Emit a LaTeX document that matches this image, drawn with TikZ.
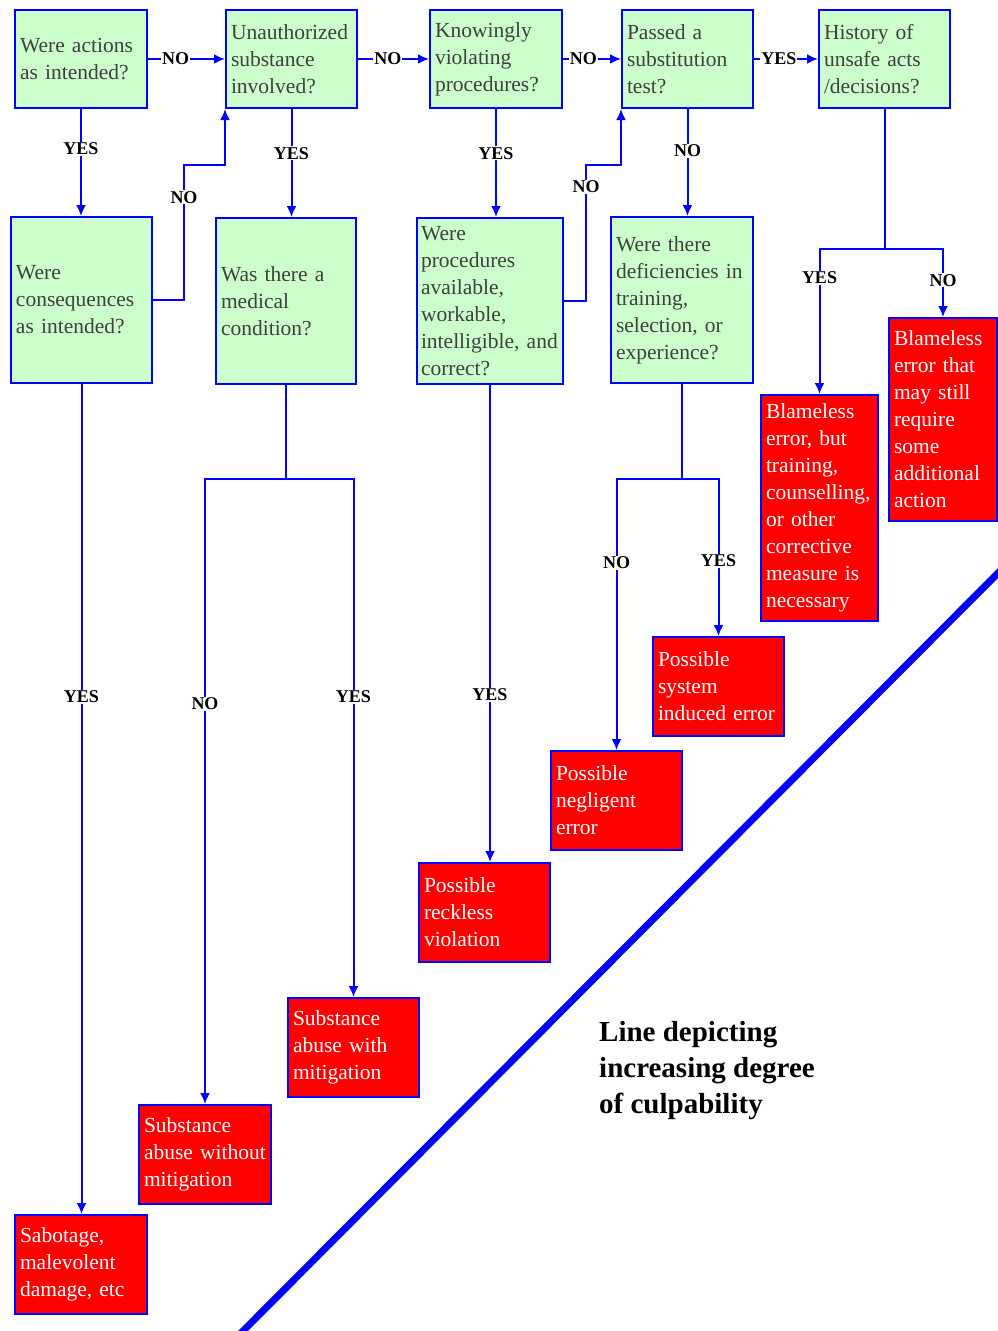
\documentclass[tikz,border=0pt]{standalone}
\usepackage{fontspec}
\setmainfont{Liberation Serif}
\usetikzlibrary{arrows.meta}
\definecolor{box-green}{HTML}{CCFFCC}
\definecolor{box-red}{HTML}{FF0000}
\definecolor{box-blue}{HTML}{0000FF}
\definecolor{question-text}{HTML}{404040}
\tikzset{
    question-box/.style = {draw=box-blue, fill=box-green, line width=2pt, rectangle, inner xsep=5pt, inner ysep=0pt, align=left, text=question-text, font=\fontsize{21.5}{27}\selectfont},
    outcome-box/.style = {question-box, fill=box-red, text=white},
    flow-line/.style = {draw=box-blue, line width=2pt},
    flow-arrow/.style = {flow-line, -{Latex[length=11pt,width=10pt]}},
    answer/.style = {fill=white, inner sep=1pt, text=black, font=\bfseries\fontsize{18}{20}\selectfont},
    culpability-text/.style = {inner sep=0pt, align=left, text=black, font=\bfseries\fontsize{29}{36}\selectfont},
}

\begin{document}
\begin{tikzpicture}[x=1pt, y=-1pt]
\useasboundingbox (0,0) rectangle (998,1331);

\node[question-box, text width=122pt, minimum height=98pt] (actions) at (81,59) {Were actions\\as intended?};
\node[question-box, text width=121pt, minimum height=98pt] (substance) at (291.5,59) {Unauthorized\\substance\\involved?};
\node[question-box, text width=122pt, minimum height=98pt] (violating) at (496,59) {Knowingly\\violating\\procedures?};
\node[question-box, text width=121pt, minimum height=98pt] (substitution) at (687.5,59) {Passed a\\substitution\\test?};
\node[question-box, text width=121pt, minimum height=98pt] (history) at (884.5,59) {History of\\unsafe acts\\/decisions?};

\node[question-box, text width=131pt, minimum height=166pt] (consequences) at (81.5,300) {Were\\consequences\\as intended?};
\node[question-box, text width=130pt, minimum height=166pt] (medical) at (286,301) {Was there a\\medical\\condition?};
\node[question-box, inner xsep=4pt, text width=138pt, minimum height=166pt] (procedures) at (490,301) {Were\\procedures\\available,\\workable,\\\mbox{intelligible, and}\\correct?};
\node[question-box, text width=132pt, minimum height=166pt] (deficiencies) at (682,300) {Were there\\deficiencies in\\training,\\selection, or\\experience?};

\node[outcome-box, text width=107pt, minimum height=226pt] (blame-training) at (819.5,508) {Blameless\\error, but\\training,\\\mbox{counselling,}\\or other\\corrective\\measure is\\necessary};
\node[outcome-box, text width=98pt, minimum height=203pt] (blame-action) at (943,419.5) {Blameless\\error that\\may still\\require\\some\\additional\\action};
\node[outcome-box, text width=121pt, minimum height=99pt] (system) at (718.5,686.5) {Possible\\system\\induced error};
\node[outcome-box, text width=121pt, minimum height=99pt] (negligent) at (616.5,800.5) {Possible\\negligent\\error};
\node[outcome-box, text width=121pt, minimum height=99pt] (reckless) at (484.5,912.5) {Possible\\reckless\\violation};
\node[outcome-box, text width=121pt, minimum height=99pt] (abuse-with) at (353.5,1047.5) {Substance\\abuse with\\mitigation};
\node[outcome-box, text width=122pt, minimum height=99pt] (abuse-without) at (205,1154.5) {Substance\\\mbox{abuse without}\\mitigation};
\node[outcome-box, text width=122pt, minimum height=99pt] (sabotage) at (81,1264.5) {Sabotage,\\malevolent\\damage, etc};

\draw[flow-arrow] (actions) -- node[answer, pos=0.36] (actions-no) {NO} (substance);
\draw[flow-arrow] (substance) -- node[answer, pos=0.42] (substance-no) {NO} (violating);
\draw[flow-arrow] (violating) -- node[answer, pos=0.35] (violating-no) {NO} (substitution);
\draw[flow-arrow] (substitution) -- node[answer, pos=0.39] (substitution-yes) {YES} (history);

\draw[flow-arrow] (actions.south) -- node[answer, pos=0.37] (actions-yes) {YES} (actions.south |- consequences.north);
\draw[flow-arrow] (substance.south) -- node[answer, pos=0.41] (substance-yes) {YES} (substance.south |- medical.north);
\draw[flow-arrow] (violating.south) -- node[answer, pos=0.41] (violating-yes) {YES} (violating.south |- procedures.north);
\draw[flow-arrow] (substitution.south) -- node[answer, pos=0.39] (substitution-no) {NO} (substitution.south |- deficiencies.north);

\coordinate (consequences-turn) at (184,165);
\draw[flow-arrow] (consequences.east) -| node[answer, pos=0.88] (consequences-no) {NO} (consequences-turn) -| (substance.south west);
\coordinate (procedures-turn) at (586,165);
\draw[flow-arrow] (procedures.east) -| node[answer, pos=0.92] (procedures-no) {NO} (procedures-turn) -| (substitution.south west);

\draw[flow-arrow] (consequences.south) -- node[answer, pos=0.377] (consequences-yes) {YES} (consequences.south |- sabotage.north);
\draw[flow-arrow] (procedures.south) -- node[answer, pos=0.65] (procedures-yes) {YES} (procedures.south |- reckless.north);

\coordinate (medical-split) at (medical.south |- 0,479);
\draw[flow-line] (medical.south) -- (medical-split);
\draw[flow-arrow] (medical-split) -| node[answer, pos=0.68] (medical-no) {NO} (abuse-without.north);
\draw[flow-arrow] (medical-split) -| node[answer, pos=0.71] (medical-yes) {YES} (abuse-with.north);

\coordinate (deficiencies-split) at (deficiencies.south |- 0,479);
\draw[flow-line] (deficiencies.south) -- (deficiencies-split);
\draw[flow-arrow] (deficiencies-split) -| node[answer, pos=0.655] (deficiencies-no) {NO} (negligent.north);
\draw[flow-arrow] (deficiencies-split) -| node[answer, pos=0.76] (deficiencies-yes) {YES} (system.north);

\coordinate (history-split) at (history.south |- 0,249);
\draw[flow-line] (history.south) -- (history-split);
\draw[flow-arrow] (history-split) -| node[answer, pos=0.60] (history-yes) {YES} (blame-training.north);
\draw[flow-arrow] (history-split) -| node[answer, pos=0.73] (history-no) {NO} (blame-action.north);

\coordinate (culpability-start) at (238,1336);
\coordinate (culpability-end) at (1003,568);
\draw[draw=box-blue, line width=7pt] (culpability-start) -- (culpability-end);
\node[culpability-text, anchor=north west] (culpability) at (599,1021) {Line depicting\\increasing degree\\of culpability};
\end{tikzpicture}
\end{document}
